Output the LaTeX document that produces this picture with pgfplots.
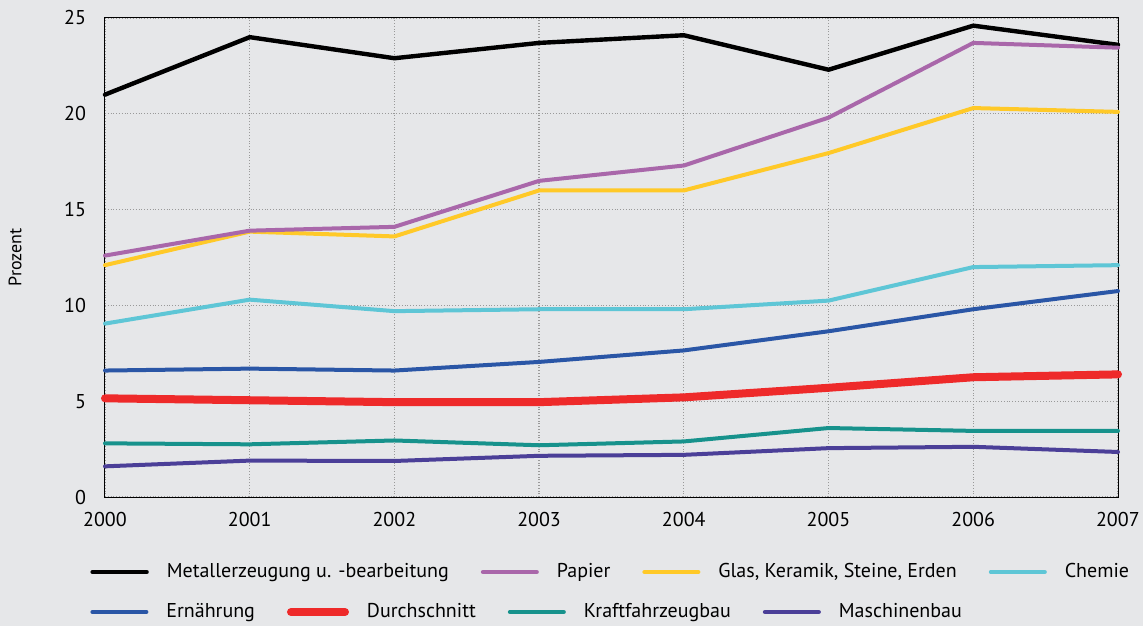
\documentclass[border=0pt]{standalone}
\usepackage{fontspec}
\setmainfont{PT Sans}
\usepackage{pgfplots}
\pgfplotsset{compat=1.18}
\definecolor{bg}{HTML}{E6E7E9}
\definecolor{cPap}{HTML}{A967AA}
\definecolor{cGlas}{HTML}{FFC928}
\definecolor{cChem}{HTML}{5EC6D6}
\definecolor{cErn}{HTML}{2A56A6}
\definecolor{cDur}{HTML}{EE2A2A}
\definecolor{cKfz}{HTML}{17928C}
\definecolor{cMas}{HTML}{4B3F98}
\pgfplotsset{
  mylegend/.style={
    legend columns=-1,
    legend cell align=left,
    legend image code/.code={\draw[##1] (0pt,0pt) -- (27pt,0pt);},
    legend style={draw=none, fill=none, inner sep=0pt, font=\fontsize{10}{12}\selectfont,
      /tikz/every odd column/.append style={column sep=7pt},
      /tikz/every even column/.append style={column sep=14pt}},
  }
}
\begin{document}
\begin{tikzpicture}
\fill[bg] (-52.5pt,-64.5pt) rectangle (519pt,248.5pt);
\begin{axis}[
  scale only axis, width=506.5pt, height=239.5pt,
  xmin=2000, xmax=2007, ymin=0, ymax=25,
  xtick={2000,...,2007}, ytick={0,5,...,25},
  xticklabel style={/pgf/number format/1000 sep={}},
  /pgf/number format/assume math mode=true,
  ticklabel style={font=\fontsize{10}{12}\selectfont},
  major tick length=0pt,
  xticklabel style={yshift=-4pt},
  yticklabel style={xshift=-6pt},
  grid=major, major grid style={densely dotted, gray!80, line width=0.6pt},
  axis line style={line width=0.5pt},
  clip=false,
  ylabel={Prozent},
  ylabel style={at={(axis description cs:-0.0888,0.5)}, anchor=center, font=\fontsize{9}{11}\selectfont},
  every axis plot/.append style={line cap=round, line join=round},
  mylegend,
  legend style={at={(axis description cs:-0.0148,-0.1566)}, anchor=west},
]
\addplot[black, line width=2.2pt] coordinates {(2000,21.0) (2001,24.0) (2002,22.9) (2003,23.7) (2004,24.1) (2005,22.3) (2006,24.6) (2007,23.6)};
\addplot[cGlas, line width=2pt, forget plot] coordinates {(2000,12.1) (2001,13.85) (2002,13.6) (2003,16.0) (2004,16.0) (2005,17.95) (2006,20.3) (2007,20.1)};
\addplot[cPap, line width=2pt] coordinates {(2000,12.6) (2001,13.9) (2002,14.1) (2003,16.5) (2004,17.3) (2005,19.8) (2006,23.7) (2007,23.45)};
\addlegendimage{cGlas, line width=2pt}
\addplot[cChem, line width=2pt] coordinates {(2000,9.05) (2001,10.3) (2002,9.7) (2003,9.8) (2004,9.8) (2005,10.25) (2006,12.0) (2007,12.1)};
\addplot[cErn, line width=2pt, forget plot] coordinates {(2000,6.6) (2001,6.7) (2002,6.6) (2003,7.05) (2004,7.65) (2005,8.65) (2006,9.8) (2007,10.75)};
\addplot[cKfz, line width=2pt, forget plot] coordinates {(2000,2.8) (2001,2.75) (2002,2.95) (2003,2.7) (2004,2.9) (2005,3.6) (2006,3.45) (2007,3.45)};
\addplot[cMas, line width=2pt, forget plot] coordinates {(2000,1.6) (2001,1.9) (2002,1.88) (2003,2.15) (2004,2.2) (2005,2.55) (2006,2.62) (2007,2.35)};
\addplot[cDur, line width=4pt, forget plot] coordinates {(2000,5.15) (2001,5.05) (2002,4.95) (2003,4.95) (2004,5.2) (2005,5.7) (2006,6.25) (2007,6.4)};
\legend{Metallerzeugung u. -bearbeitung, Papier, {Glas, Keramik, Steine, Erden}, Chemie}
\end{axis}
\begin{axis}[
  scale only axis, width=506.5pt, height=239.5pt,
  xmin=0, xmax=1, ymin=0, ymax=1, hide axis,
  mylegend,
  legend style={at={(axis description cs:-0.0148,-0.2401)}, anchor=west},
]
\addlegendimage{cErn, line width=2pt, line cap=round}
\addlegendentry{Ernährung}
\addlegendimage{cDur, line width=4pt, line cap=round}
\addlegendentry{Durchschnitt}
\addlegendimage{cKfz, line width=2pt, line cap=round}
\addlegendentry{Kraftfahrzeugbau}
\addlegendimage{cMas, line width=2pt, line cap=round}
\addlegendentry{Maschinenbau}
\end{axis}
\pgfresetboundingbox
\path[use as bounding box] (-52.5pt,-64.5pt) rectangle (519pt,248.5pt);
\end{tikzpicture}
\end{document}
